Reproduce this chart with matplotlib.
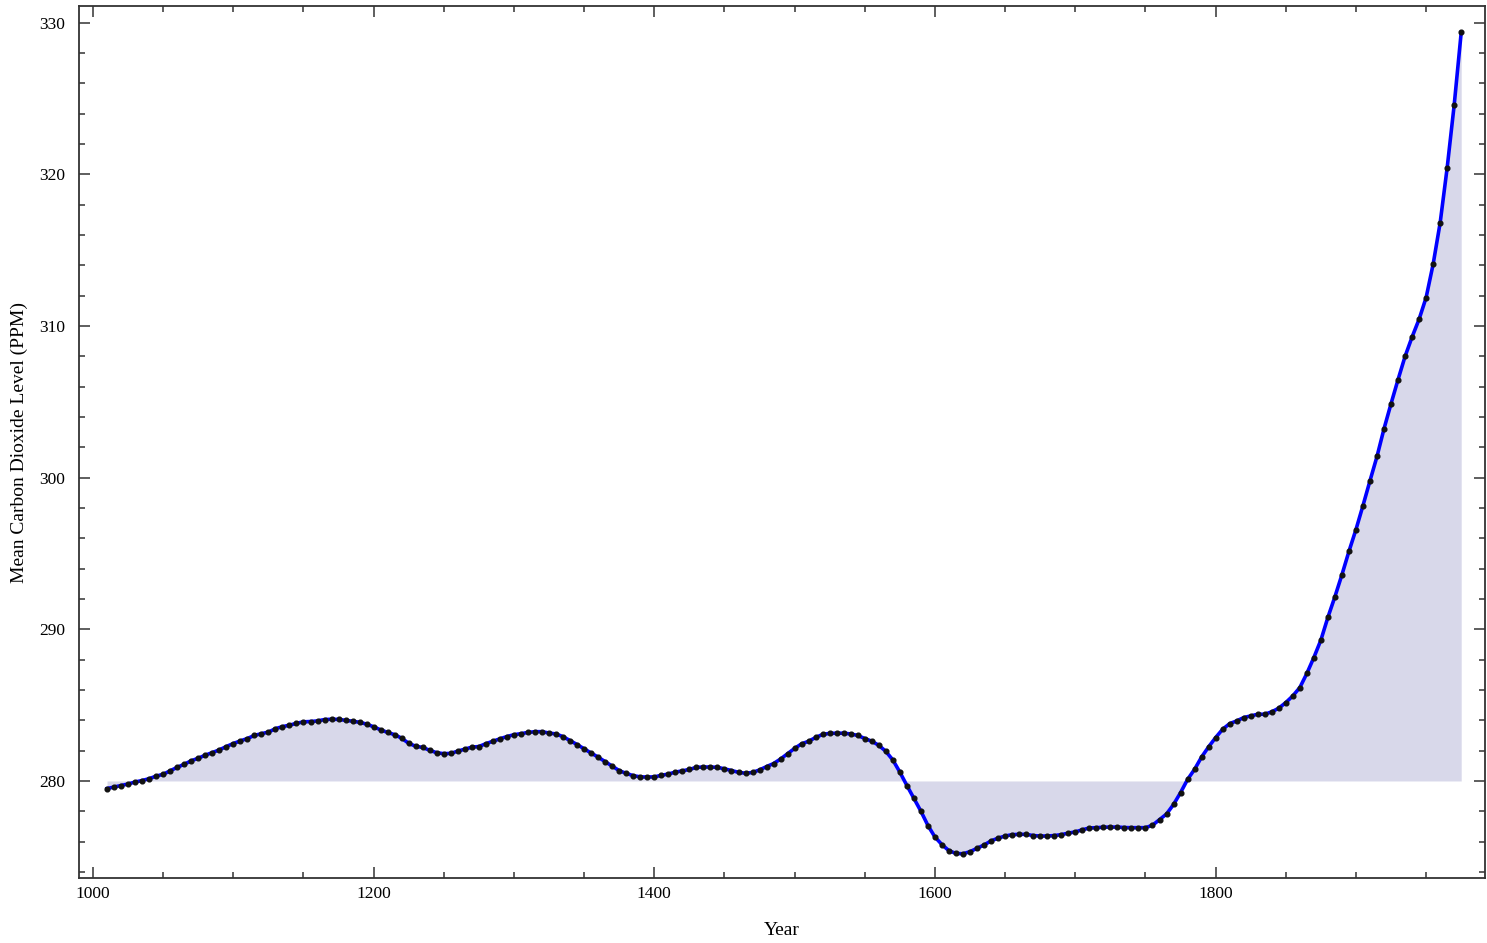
import numpy as np
import matplotlib
matplotlib.use("Agg")
import matplotlib.pyplot as plt
from matplotlib.ticker import MultipleLocator

# CO2 readings, one every 5 years from 1010 to 1975
years = np.arange(1010, 1976, 5)
co2 = [
    279.50, 279.60, 279.70, 279.80, 279.93, 280.03, 280.15, 280.32, 280.44, 280.67,  # 1010-1055
    280.90, 281.10, 281.33, 281.50, 281.70, 281.87, 282.05, 282.27, 282.47, 282.64,  # 1060-1105
    282.80, 283.00, 283.12, 283.22, 283.45, 283.58, 283.68, 283.80, 283.90, 283.92,  # 1110-1155
    283.96, 284.05, 284.07, 284.06, 284.00, 283.94, 283.87, 283.75, 283.57, 283.37,  # 1160-1205
    283.20, 283.05, 282.82, 282.48, 282.29, 282.21, 282.02, 281.86, 281.80, 281.82,  # 1210-1255
    281.97, 282.10, 282.23, 282.27, 282.46, 282.62, 282.78, 282.93, 283.05, 283.12,  # 1260-1305
    283.20, 283.25, 283.25, 283.16, 283.10, 282.92, 282.66, 282.40, 282.12, 281.84,  # 1310-1355
    281.57, 281.27, 280.98, 280.68, 280.50, 280.35, 280.27, 280.26, 280.27, 280.37,  # 1360-1405
    280.46, 280.58, 280.67, 280.76, 280.90, 280.92, 280.92, 280.90, 280.80, 280.69,  # 1410-1455
    280.57, 280.51, 280.56, 280.73, 280.95, 281.15, 281.45, 281.80, 282.15, 282.45,  # 1460-1505
    282.62, 282.87, 283.07, 283.14, 283.15, 283.15, 283.10, 283.00, 282.80, 282.62,  # 1510-1555
    282.35, 281.95, 281.38, 280.58, 279.70, 278.85, 278.00, 277.06, 276.30, 275.80,  # 1560-1605
    275.40, 275.22, 275.20, 275.34, 275.56, 275.78, 276.05, 276.23, 276.37, 276.46,  # 1610-1655
    276.48, 276.48, 276.40, 276.37, 276.37, 276.40, 276.46, 276.56, 276.64, 276.78,  # 1660-1705
    276.90, 276.92, 276.95, 276.96, 276.96, 276.93, 276.92, 276.92, 276.92, 277.08,  # 1710-1755
    277.45, 277.82, 278.45, 279.23, 280.10, 280.77, 281.58, 282.25, 282.86, 283.41,  # 1760-1805
    283.78, 283.96, 284.18, 284.29, 284.40, 284.40, 284.56, 284.80, 285.17, 285.61,  # 1810-1855
    286.16, 287.09, 288.14, 289.29, 290.79, 292.15, 293.60, 295.14, 296.58, 298.16,  # 1860-1905
    299.80, 301.40, 303.23, 304.88, 306.47, 308.00, 309.28, 310.45, 311.88, 314.08,  # 1910-1955
    316.81, 320.44, 324.58, 329.36,  # 1960-1975
]
baseline = 280

plt.rcParams['font.family'] = ['Liberation Serif', 'DejaVu Serif']

fig = plt.figure(figsize=(14.87, 9.43), dpi=100)
ax = fig.add_axes([0.0531, 0.0689, 0.9456, 0.9247])

ax.fill_between(years, co2, baseline, color='#d8d8ea', linewidth=0)
ax.plot(years, co2, color='#0000ff', linewidth=2.6, zorder=3)
ax.plot(years, co2, 'o', color='#111111', markersize=3.4, zorder=4)

ax.set_xlim(990, 1992)
ax.set_ylim(273.6, 331.1)
ax.xaxis.set_major_locator(MultipleLocator(200))
ax.xaxis.set_minor_locator(MultipleLocator(50))
ax.yaxis.set_major_locator(MultipleLocator(10))
ax.yaxis.set_minor_locator(MultipleLocator(2))

ax.tick_params(which='both', direction='in', top=True, right=True,
               color='#333333', width=1.1, labelsize=12.5)
ax.tick_params(which='major', length=8)
ax.tick_params(which='minor', length=4)
ax.tick_params(axis='x', which='major', pad=6)
ax.tick_params(axis='y', which='major', pad=10)
for s in ax.spines.values():
    s.set_color('#333333')
    s.set_linewidth(1.3)

ax.set_xlabel('Year', fontsize=14, labelpad=14)
ax.set_ylabel('Mean Carbon Dioxide Level (PPM)', fontsize=14, labelpad=8)

fig.savefig('out.png', dpi=100)
